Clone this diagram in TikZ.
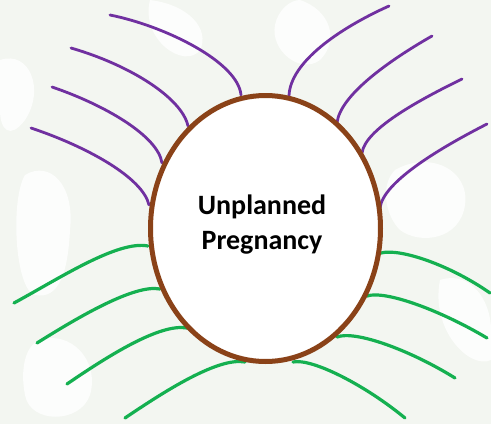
\documentclass[tikz,border=0pt]{standalone}
\usepackage{fontspec}
\setmainfont{Carlito}
\usetikzlibrary{shapes.geometric}
\definecolor{bgtint}{RGB}{243,246,241}
\definecolor{blobc}{RGB}{252,253,252}
\definecolor{vio}{RGB}{112,48,160}
\definecolor{grn}{RGB}{20,176,80}
\definecolor{brn}{RGB}{138,66,24}
\tikzset{
  vline/.style={draw=vio,line width=2.8pt,line cap=round},
  gline/.style={draw=grn,line width=3.2pt,line cap=round},
  egg/.style={ellipse,draw=brn,line width=5pt,fill=white,minimum width=230pt,minimum height=266pt,inner sep=0pt},
  blob/.style={fill=blobc}
}
\begin{document}
\begin{tikzpicture}[x=1pt,y=-1pt]
\useasboundingbox (0,0) rectangle (491,424);
\fill[bgtint] (0,0) rectangle (491,424);
% faint background pattern
\fill[blob] (25,175) .. controls (50,160) and (75,185) .. (70,230) .. controls (68,270) and (60,300) .. (35,295) .. controls (15,290) and (10,200) .. (25,175) -- cycle;
\fill[blob] (395,170) .. controls (430,150) and (470,170) .. (465,205) .. controls (460,240) and (420,245) .. (400,230) .. controls (385,215) and (380,185) .. (395,170) -- cycle;
\fill[blob] (0,60) .. controls (30,50) and (45,90) .. (25,120) .. controls (10,140) and (0,130) .. (0,110) -- cycle;
\fill[blob] (300,0) .. controls (330,10) and (340,40) .. (320,60) .. controls (300,75) and (270,50) .. (275,25) .. controls (278,10) and (290,0) .. (300,0) -- cycle;
\fill[blob] (440,280) .. controls (470,270) and (491,300) .. (491,330) -- (491,360) .. controls (470,370) and (430,330) .. (440,280) -- cycle;
\fill[blob] (40,340) .. controls (70,330) and (100,360) .. (90,395) .. controls (80,424) and (30,424) .. (25,395) .. controls (20,370) and (25,345) .. (40,340) -- cycle;
\fill[blob] (150,0) .. controls (190,5) and (210,30) .. (200,50) .. controls (185,70) and (140,40) .. (150,0) -- cycle;

% outer ends
\coordinate (lp1) at (110,15);  \coordinate (lp1e) at (241,95);
\coordinate (lp2) at (71,48);   \coordinate (lp2e) at (188,126);
\coordinate (lp3) at (52,87);   \coordinate (lp3e) at (162,163);
\coordinate (lp4) at (31,128);  \coordinate (lp4e) at (149,205);
\coordinate (rp1) at (389,6);   \coordinate (rp1e) at (289,96);
\coordinate (rp2) at (432,36);  \coordinate (rp2e) at (337,123);
\coordinate (rp3) at (462,79);  \coordinate (rp3e) at (362,153);
\coordinate (rp4) at (487,124); \coordinate (rp4e) at (380,208);
\coordinate (lg1) at (14,303);  \coordinate (lg1e) at (148,246);
\coordinate (lg2) at (37,343);  \coordinate (lg2e) at (160,289);
\coordinate (lg3) at (67,384);  \coordinate (lg3e) at (187,328);
\coordinate (lg4) at (125,418); \coordinate (lg4e) at (245,362);
\coordinate (rg1) at (490,293); \coordinate (rg1e) at (381,253);
\coordinate (rg2) at (487,338); \coordinate (rg2e) at (367,296);
\coordinate (rg3) at (455,378); \coordinate (rg3e) at (337,337);
\coordinate (rg4) at (405,418); \coordinate (rg4e) at (293,362);

% purple strands
\draw[vline] (lp1) .. controls (165,26) and (238,62) .. (lp1e);
\draw[vline] (lp2) .. controls (130,65) and (182,98) .. (lp2e);
\draw[vline] (lp3) .. controls (105,105) and (158,136) .. (lp3e);
\draw[vline] (lp4) .. controls (88,147) and (143,178) .. (lp4e);
\draw[vline] (rp1) .. controls (340,28) and (290,62) .. (rp1e);
\draw[vline] (rp2) .. controls (390,60) and (340,95) .. (rp2e);
\draw[vline] (rp3) .. controls (415,102) and (365,130) .. (rp3e);
\draw[vline] (rp4) .. controls (440,148) and (383,182) .. (rp4e);
% green strands
\draw[gline] (lg1) .. controls (60,278) and (118,240) .. (lg1e);
\draw[gline] (lg2) .. controls (80,316) and (135,284) .. (lg2e);
\draw[gline] (lg3) .. controls (108,356) and (160,323) .. (lg3e);
\draw[gline] (lg4) .. controls (165,391) and (218,357) .. (lg4e);
\draw[gline] (rg1) .. controls (450,265) and (400,248) .. (rg1e);
\draw[gline] (rg2) .. controls (440,310) and (385,290) .. (rg2e);
\draw[gline] (rg3) .. controls (410,350) and (355,330) .. (rg3e);
\draw[gline] (rg4) .. controls (365,385) and (312,358) .. (rg4e);

\node[egg] (core) at (265.5,228.5) {};
\node[align=center,font=\bfseries\fontsize{28}{35}\selectfont,text=black] (title) at (262,225) {Unplanned\\Pregnancy};
\end{tikzpicture}
\end{document}
